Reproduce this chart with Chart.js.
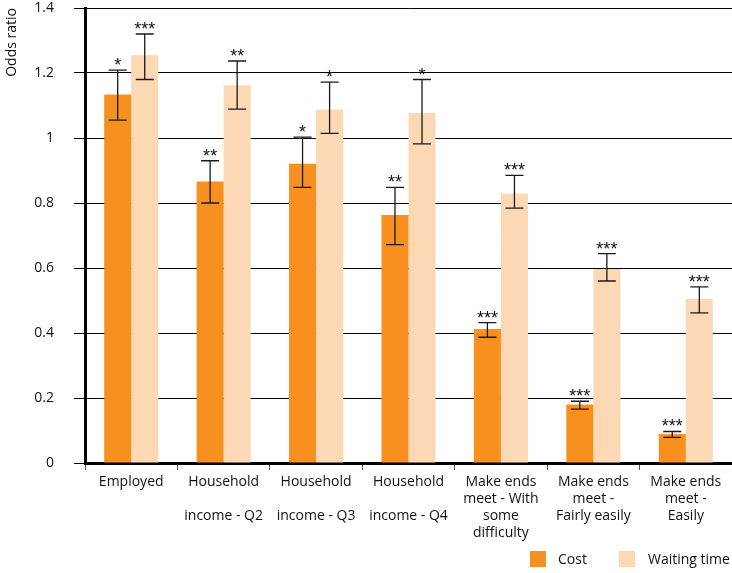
<!DOCTYPE html>
<html>
<head>
<meta charset="utf-8">
<script src="https://cdn.jsdelivr.net/npm/chart.js@4/dist/chart.umd.min.js"></script>
<style>
  html, body { margin: 0; padding: 0; background: #fff; overflow: hidden; }
  #wrap { position: relative; width: 732px; height: 573px; }
  canvas { display: block; }
  #legend { position: absolute; left: 0; top: 0; width: 732px; height: 573px; pointer-events: none;
            font-family: "Open Sans", sans-serif; font-size: 14px; color: #111; }
  .box { position: absolute; width: 16px; height: 16px; top: 551px; }
  .lab { position: absolute; top: 549px; line-height: 20px; white-space: nowrap; }
</style>
</head>
<body>
<div id="wrap">
  <canvas id="c" width="732" height="573"></canvas>
  <div id="legend"></div>
</div>
<script>
const categories = [
  ["Employed"],
  ["Household", "", "income - Q2"],
  ["Household", "", "income - Q3"],
  ["Household", "", "income - Q4"],
  ["Make ends", "meet - With", "some", "difficulty"],
  ["Make ends", "meet -", "Fairly easily"],
  ["Make ends", "meet -", "Easily"]
];
const seriesNames = ["Cost", "Waiting time"];
const cost    = [1.134, 0.866, 0.921, 0.763, 0.412, 0.180, 0.089];
const costLo  = [1.055, 0.800, 0.848, 0.672, 0.387, 0.166, 0.079];
const costHi  = [1.209, 0.930, 1.003, 0.848, 0.432, 0.190, 0.097];
const costSig = ["*", "**", "*", "**", "***", "***", "***"];
const wait    = [1.255, 1.162, 1.088, 1.077, 0.829, 0.597, 0.505];
const waitLo  = [1.180, 1.089, 1.014, 0.982, 0.784, 0.560, 0.462];
const waitHi  = [1.320, 1.237, 1.172, 1.180, 0.885, 0.644, 0.542];
const waitSig = ["***", "**", "*", "*", "***", "***", "***"];
const yTicks = { min: 0, max: 1.4, step: 0.2 };

const colors = ["#F7901E", "#FDD8B4"];
const FONT = '"Open Sans", sans-serif';

const errorBars = [
  { lo: costLo, hi: costHi, sig: costSig },
  { lo: waitLo, hi: waitHi, sig: waitSig }
];

const errorPlugin = {
  id: 'errorBars',
  afterDatasetsDraw(chart) {
    const ctx = chart.ctx;
    const y = chart.scales.y;
    chart.data.datasets.forEach((ds, di) => {
      const meta = chart.getDatasetMeta(di);
      const eb = errorBars[di];
      meta.data.forEach((bar, i) => {
        const x = bar.x;
        const yl = y.getPixelForValue(eb.lo[i]);
        const yh = y.getPixelForValue(eb.hi[i]);
        const cap = 9;
        ctx.save();
        ctx.strokeStyle = '#1a1a1a';
        ctx.lineWidth = 1.3;
        ctx.beginPath();
        ctx.moveTo(x, yl); ctx.lineTo(x, yh);
        ctx.moveTo(x - cap, yl); ctx.lineTo(x + cap, yl);
        ctx.moveTo(x - cap, yh); ctx.lineTo(x + cap, yh);
        ctx.stroke();
        ctx.fillStyle = '#111';
        ctx.font = '18px "Liberation Sans", sans-serif';
        ctx.textAlign = 'center';
        ctx.textBaseline = 'alphabetic';
        ctx.fillText(eb.sig[i], x, yh + 1);
        ctx.restore();
      });
    });
  }
};

new Chart(document.getElementById('c'), {
  type: 'bar',
  data: {
    labels: categories,
    datasets: [
      { label: seriesNames[0], data: cost, backgroundColor: colors[0], borderWidth: 0 },
      { label: seriesNames[1], data: wait, backgroundColor: colors[1], borderWidth: 0 }
    ]
  },
  options: {
    responsive: false,
    animation: false,
    events: [],
    layout: { padding: { top: 8, right: 0, bottom: 0, left: 0 } },
    datasets: { bar: { categoryPercentage: 0.585, barPercentage: 1.0 } },
    plugins: { legend: { display: false }, tooltip: { enabled: false } },
    scales: {
      x: {
        afterFit(scale) { scale.height = 110; scale.paddingTop = 0; scale.paddingBottom = 0; },
        grid: { offset: true, drawOnChartArea: false, drawTicks: true, tickLength: 7, color: '#555', lineWidth: 1 },
        border: { display: true, color: '#000', width: 3 },
        ticks: {
          color: '#111', maxRotation: 0, minRotation: 0, autoSkip: false, padding: 4,
          font: { family: FONT, size: 14, lineHeight: 1.2 }
        }
      },
      y: {
        min: yTicks.min, max: yTicks.max,
        afterFit(scale) { scale.width = 85; scale.paddingTop = 0; scale.paddingBottom = 0; },
        grid: { color: '#000', lineWidth: 1, tickLength: 11, drawTicks: true },
        border: { display: true, color: '#000', width: 3 },
        ticks: {
          stepSize: yTicks.step, color: '#111', padding: 20,
          font: { family: FONT, size: 14 },
          callback: (v) => String(Number(v.toFixed(2)))
        },
        title: {
          display: true, text: 'Odds ratio', align: 'end', color: '#111',
          font: { family: FONT, size: 14, lineHeight: 1.2 },
          padding: { top: 4, bottom: 0 }
        }
      }
    }
  },
  plugins: [errorPlugin]
});

// HTML legend
const legend = document.getElementById('legend');
const boxLeft = [530, 619];
const textLeft = [558, 648];
seriesNames.forEach((name, i) => {
  const b = document.createElement('div');
  b.className = 'box';
  b.style.left = boxLeft[i] + 'px';
  b.style.background = colors[i];
  legend.appendChild(b);
  const t = document.createElement('div');
  t.className = 'lab';
  t.style.left = textLeft[i] + 'px';
  t.textContent = name;
  legend.appendChild(t);
});
</script>
</body>
</html>
